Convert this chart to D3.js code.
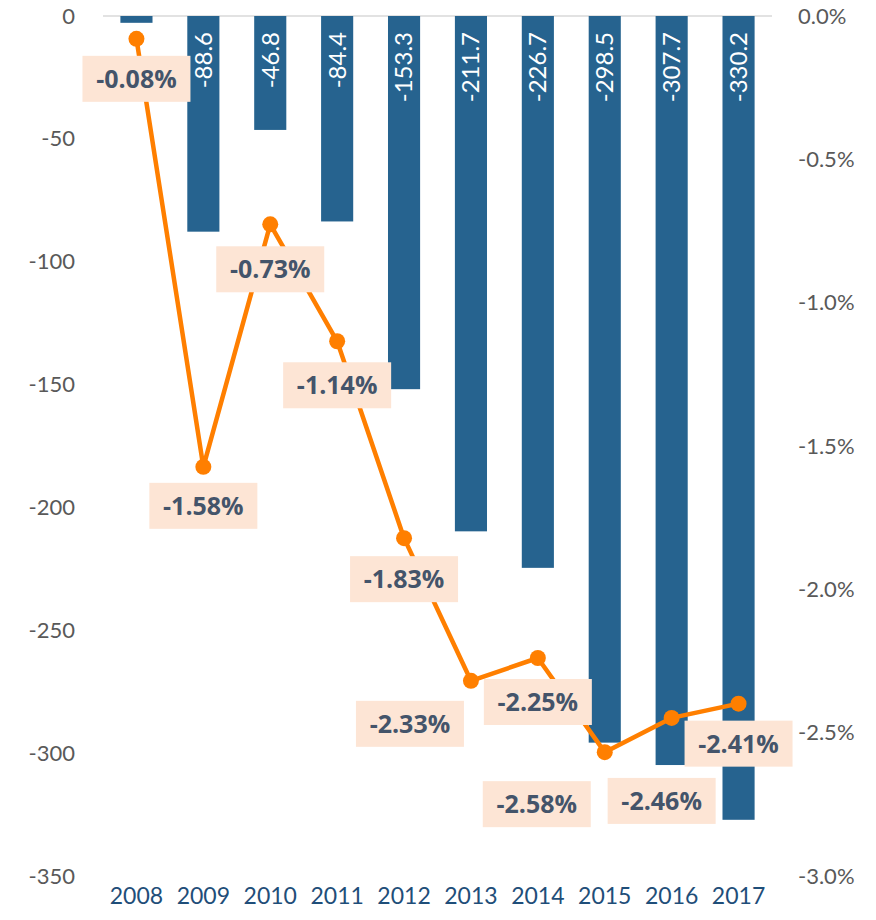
<!DOCTYPE html>
<html>
<head>
<meta charset="utf-8">
<script src="https://cdn.jsdelivr.net/npm/d3@7"></script>
<style>
  body { margin: 0; background: #fff; }
  svg { display: block; font-family: Lato, "Open Sans", sans-serif; }
</style>
</head>
<body>
<svg id="chart" width="876" height="920"></svg>
<script>
const years = ["2008", "2009", "2010", "2011", "2012", "2013", "2014", "2015", "2016", "2017"];
const balance = [-2.8, -88.6, -46.8, -84.4, -153.3, -211.7, -226.7, -298.5, -307.7, -330.2];
const ratio = [-0.08, -1.58, -0.73, -1.14, -1.83, -2.33, -2.25, -2.58, -2.46, -2.41];
const leftTicks = [0, -50, -100, -150, -200, -250, -300, -350];
const rightTicks = [0, -0.5, -1.0, -1.5, -2.0, -2.5, -3.0];

// label box offsets from the point (layout only)
const labelShift = [[0, 40], [0, 39], [0, 45], [0, 44], [0, 41], [-61, 43], [0, 44], [-68, 52], [-10, 83], [0, 40]];

const svg = d3.select("#chart");
const width = 876, height = 920;
const plotLeft = 103, plotRight = 772, plotTop = 16;
const axisFont = "Lato, sans-serif";

const hy = s => String(s).replace(/\u2212/g, "-");

const x = d3.scaleBand()
  .domain(years)
  .range([plotLeft, plotRight])
  .paddingInner(0.52)
  .paddingOuter(0.26);

const yL = d3.scaleLinear().domain([0, -350]).range([plotTop, 868]);
const yR = d3.scaleLinear().domain([0, -3.0]).range([plotTop, 872]);

// top gridline
svg.append("line")
  .attr("x1", plotLeft).attr("x2", plotRight)
  .attr("y1", yL(0)).attr("y2", yL(0))
  .attr("stroke", "#d9d9d9").attr("stroke-width", 1.5);

// left axis
const axL = svg.append("g")
  .attr("transform", `translate(${plotLeft - 28},0)`)
  .call(d3.axisLeft(yL).tickValues(leftTicks).tickSize(0).tickPadding(0).tickFormat(d => hy(d)));
axL.select(".domain").remove();
axL.selectAll("text").attr("font-size", 22).attr("fill", "#595959").attr("font-family", axisFont)
  .attr("transform", (d, i) => `translate(0,${i * 8 / 7})`);

// right axis
const axR = svg.append("g")
  .attr("transform", `translate(${plotRight + 26},0)`)
  .call(d3.axisRight(yR).tickValues(rightTicks).tickSize(0).tickPadding(0).tickFormat(d => hy(d3.format(".1f")(d)) + "%"));
axR.select(".domain").remove();
axR.selectAll("text").attr("font-size", 22).attr("fill", "#595959").attr("font-family", axisFont)
  .attr("transform", (d, i) => `translate(0,${i * 4 / 6})`);

// bottom axis
const axB = svg.append("g")
  .attr("transform", `translate(0,${height - 24})`)
  .call(d3.axisBottom(x).tickSize(0).tickPadding(0));
axB.select(".domain").remove();
axB.selectAll("text").attr("font-size", 23).attr("fill", "#1f4e79").attr("font-family", axisFont).attr("dy", "0.35em");

// bars
svg.append("g").selectAll("rect")
  .data(balance)
  .join("rect")
  .attr("x", (d, i) => x(years[i]))
  .attr("width", x.bandwidth())
  .attr("y", yL(0))
  .attr("height", d => yL(d) - yL(0))
  .attr("fill", "#26638f");

// bar labels (rotated, inside end)
svg.append("g").selectAll("text")
  .data(balance.slice(1))
  .join("text")
  .attr("transform", (d, i) => `translate(${x(years[i + 1]) + x.bandwidth() / 2},${yL(0) + 16}) rotate(-90)`)
  .attr("text-anchor", "end")
  .attr("dy", "0.35em")
  .attr("font-size", 24)
  .attr("font-family", axisFont)
  .attr("fill", "#fff")
  .text(d => hy(d3.format(".1f")(d)));

// line
const cx = i => x(years[i]) + x.bandwidth() / 2;
svg.append("path")
  .datum(ratio)
  .attr("fill", "none")
  .attr("stroke", "#ff7f00")
  .attr("stroke-width", 4.5)
  .attr("stroke-linejoin", "round")
  .attr("d", d3.line().x((d, i) => cx(i)).y(d => yR(d)));

svg.append("g").selectAll("circle")
  .data(ratio)
  .join("circle")
  .attr("cx", (d, i) => cx(i))
  .attr("cy", d => yR(d))
  .attr("r", 8)
  .attr("fill", "#ff7f00");

// line labels
const lab = svg.append("g").selectAll("g")
  .data(ratio)
  .join("g")
  .attr("transform", (d, i) => `translate(${cx(i) + labelShift[i][0]},${yR(d) + labelShift[i][1]})`);

lab.append("rect")
  .attr("x", -54).attr("y", -23)
  .attr("width", 108).attr("height", 46)
  .attr("fill", "#fde5d5");

lab.append("text")
  .attr("text-anchor", "middle")
  .attr("dy", "0.36em")
  .attr("font-size", 25)
  .attr("font-weight", "bold")
  .attr("fill", "#44546a")
  .attr("font-family", "'Open Sans', sans-serif")
  .text(d => hy(d3.format(".2f")(d)) + "%");
</script>
</body>
</html>
